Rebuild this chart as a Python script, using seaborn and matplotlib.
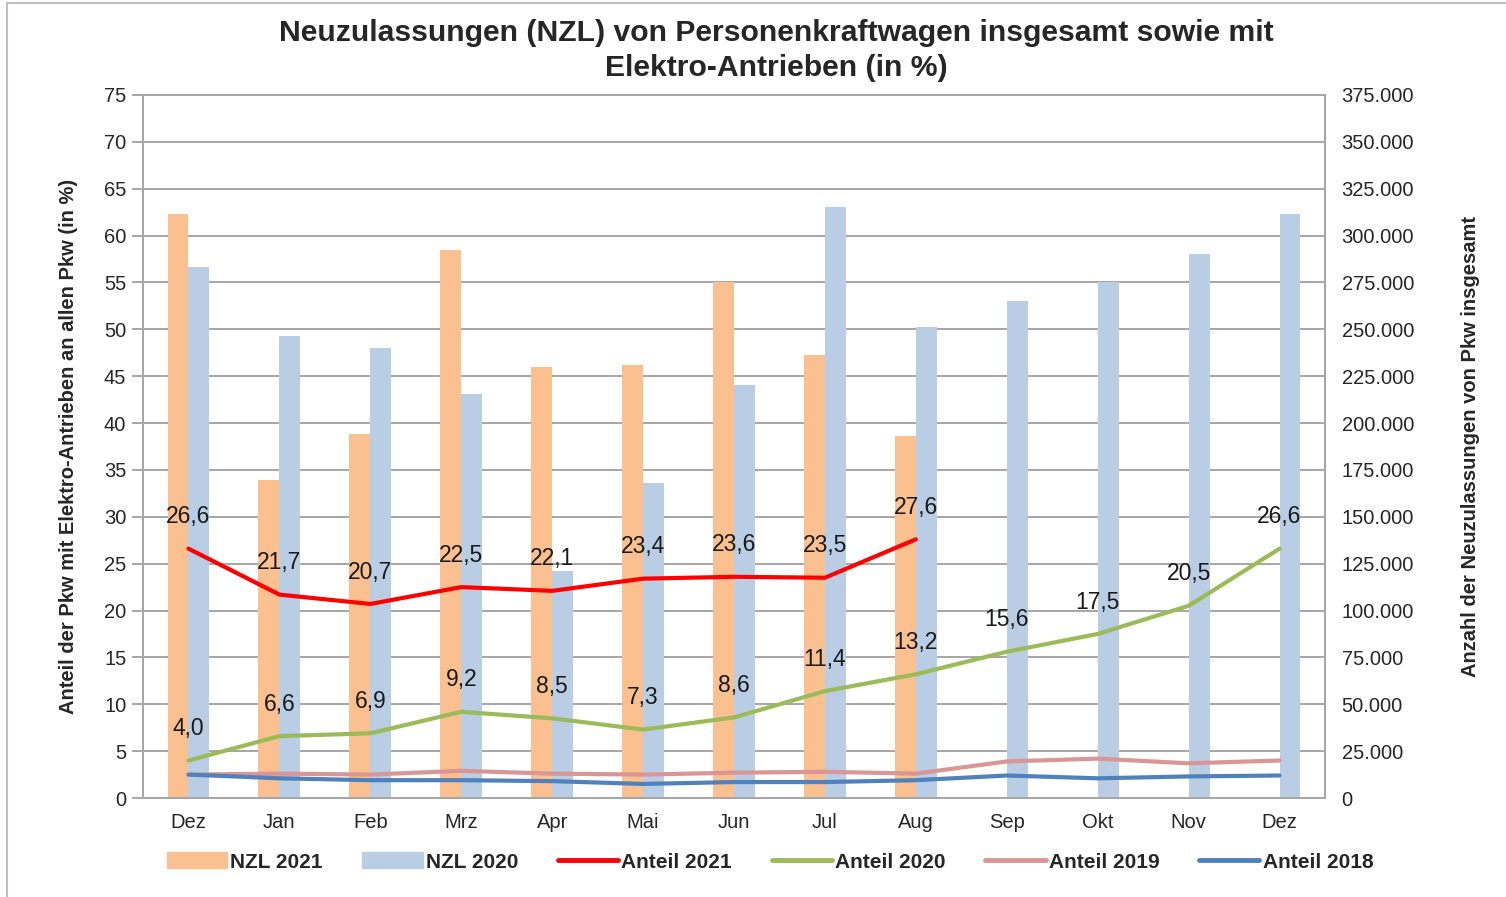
import pandas as pd
import numpy as np
import matplotlib
matplotlib.use("Agg")
import matplotlib.pyplot as plt
import seaborn as sns
from matplotlib.lines import Line2D
from matplotlib.patches import Patch
from matplotlib.ticker import FuncFormatter, MultipleLocator

# Data
months = ["Dez", "Jan", "Feb", "Mrz", "Apr", "Mai", "Jun", "Jul", "Aug", "Sep", "Okt", "Nov", "Dez"]
nzl_2021 = [311500, 169500, 194000, 292500, 230000, 231000, 275000, 236500, 193000]
nzl_2020 = [283500, 246500, 240000, 215500, 121000, 168000, 220500, 315000, 251000,
            265000, 275000, 290000, 311500]
anteil_2021 = [26.6, 21.7, 20.7, 22.5, 22.1, 23.4, 23.6, 23.5, 27.6]
anteil_2020 = [4.0, 6.6, 6.9, 9.2, 8.5, 7.3, 8.6, 11.4, 13.2, 15.6, 17.5, 20.5, 26.6]
anteil_2019 = [2.5, 2.6, 2.5, 2.9, 2.6, 2.5, 2.7, 2.8, 2.6, 3.9, 4.2, 3.7, 4.0]
anteil_2018 = [2.5, 2.1, 1.9, 1.9, 1.8, 1.5, 1.7, 1.7, 1.9, 2.4, 2.1, 2.3, 2.4]

bar_colors = {"NZL 2021": "#FAC090", "NZL 2020": "#B9CDE5"}
line_colors = {"Anteil 2021": "#FF0000", "Anteil 2020": "#9BBB59",
               "Anteil 2019": "#D99694", "Anteil 2018": "#4F81BD"}

bars = pd.concat([
    pd.DataFrame({"pos": range(len(nzl_2021)), "wert": nzl_2021, "serie": "NZL 2021"}),
    pd.DataFrame({"pos": range(len(nzl_2020)), "wert": nzl_2020, "serie": "NZL 2020"}),
])
lines = pd.concat([
    pd.DataFrame({"pos": range(len(v)), "anteil": v, "serie": k})
    for k, v in [("Anteil 2021", anteil_2021), ("Anteil 2020", anteil_2020),
                 ("Anteil 2019", anteil_2019), ("Anteil 2018", anteil_2018)]
])

sns.set_style("white")
plt.rcParams["font.family"] = ["Liberation Sans", "DejaVu Sans"]

W, H = 1506, 897
fig = plt.figure(figsize=(W / 100, H / 100), dpi=100)
ax = fig.add_axes([143 / W, (H - 798) / H, (1325 - 143) / W, (798 - 95) / H])
ax2 = ax.twinx()
ax.set_zorder(2)
ax2.set_zorder(1)
ax.patch.set_visible(False)
ax2.patch.set_visible(True)
ax2.patch.set_facecolor("white")

grid_c = "#A6A6A6"
txt_c = "#262626"

# bars on the right axis
sns.barplot(data=bars, x="pos", y="wert", hue="serie", order=list(range(13)),
            hue_order=["NZL 2021", "NZL 2020"], palette=bar_colors,
            width=0.46, gap=0, ax=ax2, legend=False, saturation=1, linewidth=0)
ax2.set_ylim(0, 375000)
ax2.yaxis.set_major_locator(MultipleLocator(25000))
ax2.yaxis.set_major_formatter(FuncFormatter(lambda v, p: f"{int(v):,}".replace(",", ".")))
ax2.grid(axis="y", color=grid_c, linewidth=1.4)
ax2.set_axisbelow(True)
ax2.tick_params(axis="y", length=0, labelsize=14.5, labelcolor=txt_c, pad=12)
ax2.set_ylabel("Anzahl der Neuzulassungen von Pkw insgesamt", fontsize=14.5,
               fontweight="bold", labelpad=34)
ax2.set_xlabel("")

# lines on the left axis
sns.lineplot(data=lines, x="pos", y="anteil", hue="serie", palette=line_colors,
             hue_order=["Anteil 2019", "Anteil 2018", "Anteil 2020", "Anteil 2021"],
             linewidth=3, ax=ax, legend=False)
ax.set_ylim(0, 75)
ax.yaxis.set_major_locator(MultipleLocator(5))
ax.set_xlim(-0.5, 12.5)
ax.grid(False)
ax.tick_params(axis="y", length=8, color=grid_c, width=1.4, labelsize=14.5,
               labelcolor=txt_c, pad=4)
ax.set_ylabel("Anteil der Pkw mit Elektro-Antrieben an allen Pkw (in %)", fontsize=14.5,
              fontweight="bold", labelpad=19)
ax.set_xlabel("")
ax.set_xticks(range(13))
ax.set_xticklabels(months, fontsize=14.5, color=txt_c)
ax.set_xticks(np.arange(-0.5, 13, 1), minor=True)
ax.tick_params(axis="x", which="major", length=0, pad=11)
ax.tick_params(axis="x", which="minor", length=8, color=grid_c, width=1.4)
ax2.set_xlim(-0.5, 12.5)

for a in (ax, ax2):
    for s in a.spines.values():
        s.set_color(grid_c)
        s.set_linewidth(1.4)

# data labels
for vals in (anteil_2021, anteil_2020):
    for i, v in enumerate(vals):
        ax.annotate(f"{v:.1f}".replace(".", ","), (i, v), xytext=(0, 23),
                    textcoords="offset points", ha="center", va="center",
                    fontsize=16.5, color="#1a1a1a")

fig.suptitle("Neuzulassungen (NZL) von Personenkraftwagen insgesamt sowie mit\nElektro-Antrieben (in %)",
             x=776 / W, y=1 - 19 / H, fontsize=21.7, fontweight="bold", linespacing=1.3, va="top")

handles = [Patch(color=bar_colors["NZL 2021"]), Patch(color=bar_colors["NZL 2020"])]
handles += [Line2D([], [], color=c, linewidth=3.5) for c in line_colors.values()]
labels = ["NZL 2021", "NZL 2020"] + list(line_colors.keys())
fig.legend(handles, labels, loc="center", bbox_to_anchor=(770 / W, 1 - 862 / H), ncol=6,
           frameon=False, prop={"weight": "bold", "size": 15}, handlelength=2.9,
           handleheight=0.8, handletextpad=0.15, columnspacing=1.9)

# outer chart frame
fig.add_artist(Line2D([7 / W, 7 / W], [0, 1 - 3 / H], color="#BFBFBF", linewidth=1.5))
fig.add_artist(Line2D([7 / W, 1], [1 - 3 / H, 1 - 3 / H], color="#BFBFBF", linewidth=1.5))

fig.savefig("out.png", dpi=100)
